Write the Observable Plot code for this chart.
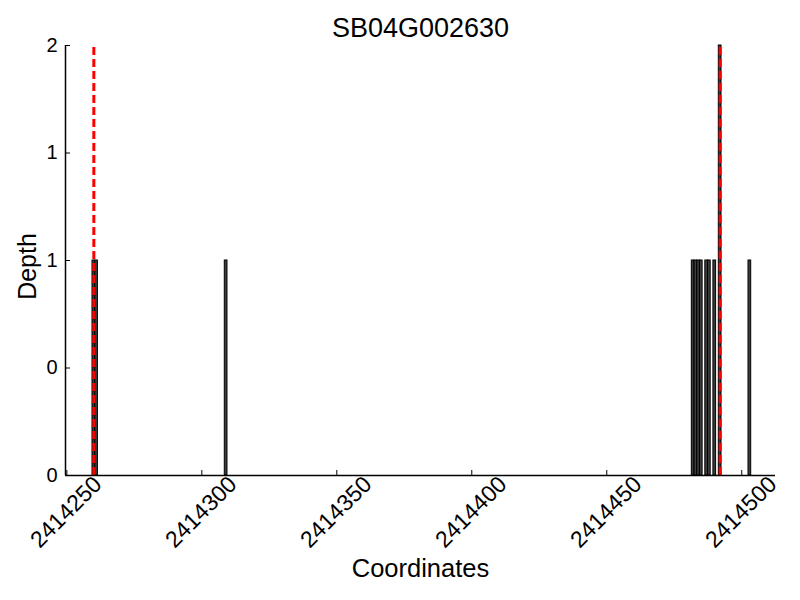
<!DOCTYPE html>
<html>
<head>
<meta charset="utf-8">
<script src="https://cdn.jsdelivr.net/npm/d3@7"></script>
<script src="https://cdn.jsdelivr.net/npm/@observablehq/plot@0.6"></script>
<style>
  body { margin: 0; background: #fff; }
  svg { font-family: "Liberation Sans", Arial, sans-serif; }
</style>
</head>
<body>
<div id="chart"></div>
<script>
// Data
const chartTitle = "SB04G002630";
const positions = [2414260, 2414261, 2414309, 2414482, 2414483, 2414484, 2414485, 2414487, 2414488, 2414490, 2414492, 2414503];
const depths    = [1, 1, 1, 1, 1, 1, 1, 1, 1, 1, 2, 1];
const markerPositions = [2414260, 2414492];
const xTicks = [2414250, 2414300, 2414350, 2414400, 2414450, 2414500];
const yTicks = [0, 0.5, 1, 1.5, 2];
const xDomain = [2414249.5, 2414512.5];
const yDomain = [0, 2];

const bars = positions.map((p, i) => ({pos: p, depth: depths[i]}));

const plot = Plot.plot({
  width: 800,
  height: 600,
  marginTop: 45,
  marginBottom: 125,
  marginLeft: 65,
  marginRight: 25,
  style: {fontFamily: '"Liberation Sans", Arial, sans-serif', color: "#000", background: "#fff"},
  x: {domain: xDomain, label: null},
  y: {domain: yDomain, label: null},
  marks: [
    Plot.rectY(bars, {x1: d => d.pos - 0.5, x2: d => d.pos + 0.5, y1: 0, y2: "depth",
      fill: "#3d3d3d", stroke: "#000", strokeWidth: 1, inset: 0}),
    Plot.ruleX(markerPositions, {x: d => d, y1: yDomain[0], y2: yDomain[1],
      stroke: "#ff0000", strokeWidth: 3, strokeDasharray: "8,4"}),
    // axis lines
    Plot.ruleY([yDomain[0]], {stroke: "#000", strokeWidth: 1.5}),
    Plot.ruleX([xDomain[0]], {stroke: "#000", strokeWidth: 1.5}),
    // inward ticks
    Plot.axisX({ticks: xTicks, tickSize: -5, tickFormat: () => "", label: null, strokeWidth: 1}),
    Plot.axisY({ticks: yTicks, tickSize: -5, tickFormat: () => "", label: null, strokeWidth: 1}),
    // tick labels
    Plot.axisX({ticks: xTicks, tickSize: 0, tickRotate: -45, tickPadding: 5, dx: 31, fontSize: 23, label: null, tickFormat: d => String(d)}),
    Plot.axisY({ticks: yTicks, tickSize: 0, tickPadding: 8, fontSize: 20, label: null, tickFormat: d => String(Math.floor(d))}),
    // title and axis labels
    Plot.text([chartTitle], {frameAnchor: "top", lineAnchor: "middle", dy: -17, fontSize: 27, text: d => d, fill: "#000"}),
    Plot.text(["Coordinates"], {frameAnchor: "bottom", lineAnchor: "middle", dy: 93, fontSize: 25.5, text: d => d, fill: "#000"}),
    Plot.text(["Depth"], {frameAnchor: "left", textAnchor: "middle", lineAnchor: "middle", dx: -38, dy: 6, rotate: -90, fontSize: 25, text: d => d, fill: "#000"})
  ]
});
document.getElementById("chart").appendChild(plot);
</script>
</body>
</html>
